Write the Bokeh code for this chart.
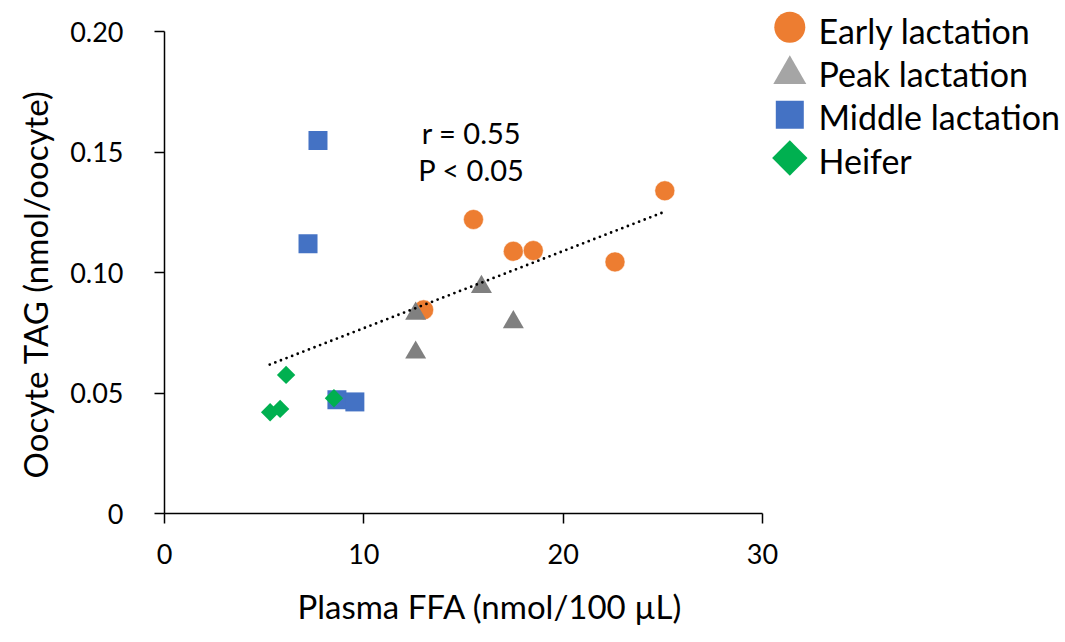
import numpy as np
from bokeh.plotting import figure
from bokeh.models import Range1d, FixedTicker, ColumnDataSource, Title
from bokeh.embed import file_html
from bokeh.resources import INLINE
from bokeh.core.properties import value

FONT = "Lato"

# ---- data ----
early_x = [15.5, 17.5, 18.5, 22.6, 25.1, 13.0]
early_y = [0.122, 0.1088, 0.1091, 0.1044, 0.1339, 0.0845]
peak_x = [12.6, 15.9, 17.5, 12.6]
peak_y = [0.0829, 0.0940, 0.0794, 0.0668]
middle_x = [7.7, 7.2, 8.65, 9.55]
middle_y = [0.1548, 0.1119, 0.0472, 0.0463]
heifer_x = [6.1, 5.3, 5.8, 8.5]
heifer_y = [0.0575, 0.0420, 0.0434, 0.0478]
trend_x = [5.28, 25.0]
trend_y = [0.0618, 0.1249]

x_ticks = [0, 10, 20, 30]
y_ticks = [0, 0.05, 0.10, 0.15, 0.20]
y_tick_labels = ["0", "0.05", "0.10", "0.15", "0.20"]

groups = ["Early lactation", "Peak lactation", "Middle lactation", "Heifer"]
legend_colors = ["#ED7D31", "#A5A5A5", "#4472C4", "#00B050"]
legend_markers = ["circle", "triangle", "square", "square"]
legend_angles = [0, 0, 0, np.pi / 4]
legend_sizes = [31, 33, 28, 25]

stats_text = ["r = 0.55", "P < 0.05"]
x_title = "Plasma FFA (nmol/100 µL)"
y_title = "Oocyte TAG (nmol/oocyte)"

# ---- layout (pixels) ----
W, H = 1065, 642
LEFT, BOTTOM = 164, 129          # frame left edge / bottom border
AX_W, AX_H = 598, 482            # length of the x (0..30) and y (0..0.20) axes
X_MAX, Y_MAX = 30, 0.20
FW, FH = W - LEFT, H - BOTTOM    # frame extends right and up to hold the legend
x_end = X_MAX * FW / AX_W
y_end = Y_MAX * FH / AX_H

p = figure(width=W, height=H, frame_width=FW, frame_height=FH, output_backend="svg",
           toolbar_location=None, x_range=Range1d(0, x_end), y_range=Range1d(0, y_end),
           min_border_left=LEFT, min_border_right=0, min_border_top=0, min_border_bottom=BOTTOM,
           outline_line_color=None, background_fill_color="white", border_fill_color="white")
p.grid.visible = False
# pixel-space ranges for the legend block (canvas coordinates)
p.extra_x_ranges = {"px": Range1d(LEFT, W)}
p.extra_y_ranges = {"px": Range1d(FH, 0)}

p.scatter(early_x, early_y, marker="circle", size=20, fill_color="#ED7D31",
          line_color="white", line_width=0.5)
p.scatter(peak_x, peak_y, marker="triangle", size=21, fill_color="#808080", line_color=None)
p.scatter(middle_x, middle_y, marker="square", size=19, fill_color="#4472C4", line_color=None)
p.scatter(heifer_x, heifer_y, marker="square", angle=np.pi / 4, size=13,
          fill_color="#00B050", line_color=None)
p.line(trend_x, trend_y, line_color="black", line_width=2.8, line_dash="0 6", line_cap="round")

# r / P annotation (centre positions in canvas pixels)
stats_src = ColumnDataSource(dict(t=stats_text, x=[471.0, 471.0], y=[131.5, 168.5]))
p.text("x", "y", text="t", source=stats_src, x_range_name="px", y_range_name="px",
       text_align="center", text_baseline="middle", text_font=value(FONT),
       text_font_size="29px", text_color="black")

for ax in (p.xaxis[0], p.yaxis[0]):
    ax.axis_line_color = "black"
    ax.axis_line_width = 1.5
    ax.major_tick_line_color = "black"
    ax.major_tick_line_width = 1.5
    ax.major_tick_in = 0
    ax.major_tick_out = 10
    ax.minor_tick_line_color = None
    ax.major_label_text_font = FONT
    ax.major_label_text_font_size = "27px"
    ax.major_label_text_color = "black"

p.xaxis.bounds = (0, X_MAX)
p.yaxis.bounds = (0, Y_MAX)
p.xaxis.ticker = FixedTicker(ticks=x_ticks)
p.yaxis.ticker = FixedTicker(ticks=y_ticks)
p.yaxis.major_label_overrides = {t: l for t, l in zip(y_ticks, y_tick_labels)}
p.xaxis.major_label_standoff = 20
p.yaxis.major_label_standoff = 31

# axis titles centred on the axis spans (not the enlarged frame)
p.add_layout(Title(text=x_title, align="left", offset=133, standoff=34,
                   text_font=FONT, text_font_size="33px", text_font_style="normal",
                   text_color="black"), "below")
p.add_layout(Title(text=y_title, align="left", offset=35, standoff=25,
                   text_font=FONT, text_font_size="33px", text_font_style="normal",
                   text_color="black"), "left")

# ---- legend block ----
n = len(groups)
idx = np.arange(n)
src = ColumnDataSource(dict(
    name=groups, color=legend_colors, marker=legend_markers, angle=legend_angles,
    size=legend_sizes,
    mx=[789.3] * n,
    my=[26.7, 73.9, 114.2, 157.5],
    tx=[818.0] * n,
    ty=list(29.5 + 43.4 * idx),
))
p.scatter("mx", "my", source=src, marker="marker", size="size", angle="angle",
          fill_color="color", line_color=None, x_range_name="px", y_range_name="px")
p.text("tx", "ty", text="name", source=src, text_font=value(FONT), text_font_size="34px",
       text_baseline="middle", text_align="left", text_color="black",
       x_range_name="px", y_range_name="px")

open("out.html", "w").write(file_html(p, INLINE))
